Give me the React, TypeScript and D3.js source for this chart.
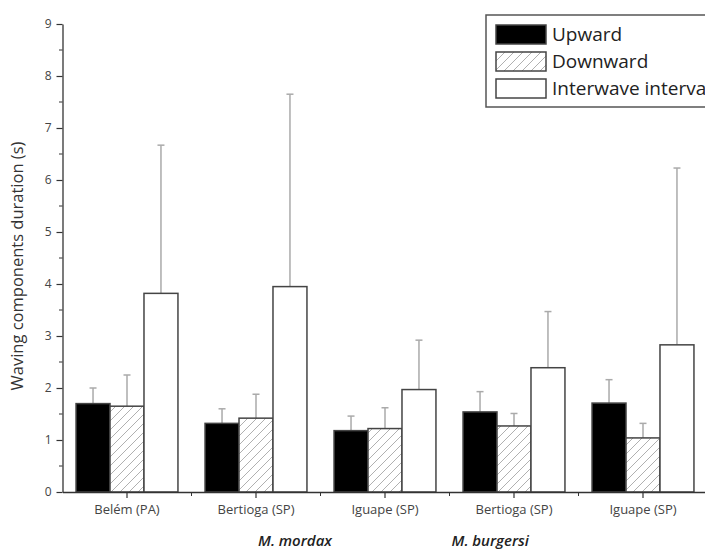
import React, { useEffect, useRef } from "react";
import * as d3 from "d3";

const W = 705;
const H = 554;
const X0 = 62.5;
const X1 = 707.5;
const Y0 = 492;
const Y1 = 24;

// categories (site names repeat, so bars are keyed by index)
const sites = ["Belém (PA)", "Bertioga (SP)", "Iguape (SP)", "Bertioga (SP)", "Iguape (SP)"];
const speciesNames = ["M. mordax", "M. burgersi"];
const seriesNames = ["Upward", "Downward", "Interwave interval"];

// means and SD (seconds)
const upward = [1.7, 1.32, 1.18, 1.54, 1.71];
const upwardSD = [0.3, 0.28, 0.28, 0.39, 0.45];
const downward = [1.65, 1.42, 1.22, 1.27, 1.04];
const downwardSD = [0.6, 0.46, 0.4, 0.24, 0.28];
const interwave = [3.82, 3.95, 1.97, 2.39, 2.83];
const interwaveSD = [2.85, 3.7, 0.95, 1.08, 3.4];

const yTicks = [0, 1, 2, 3, 4, 5, 6, 7, 8, 9];

const FONT = "'Open Sans', 'Liberation Sans', sans-serif";
const fills = ["#000", "url(#hatch)", "#fff"];

const App = () => {
  const xAxisRef = useRef<SVGGElement>(null);
  const yAxisRef = useRef<SVGGElement>(null);

  const ids = sites.map((_, i) => String(i));
  const x = d3.scaleBand().domain(ids).range([X0, X1]).paddingInner(0.21).paddingOuter(0.105);
  const xs = d3.scaleBand().domain(seriesNames).range([0, x.bandwidth()]);
  const y = d3.scaleLinear().domain([0, 9]).range([Y0, Y1]);

  const means = [upward, downward, interwave];
  const sds = [upwardSD, downwardSD, interwaveSD];

  useEffect(() => {
    const gx = d3.select(xAxisRef.current!);
    gx.selectAll("*").remove();
    gx.call(
      d3.axisBottom(x).tickSize(6).tickSizeOuter(0).tickPadding(7)
        .tickFormat((d) => sites[+d])
    );
    // minor ticks between groups
    const bounds = ids.slice(1).map((id) => (x(id) as number) - (x.step() - x.bandwidth()) / 2);
    gx.selectAll(".minor").data(bounds).join("line")
      .attr("class", "minor")
      .attr("x1", (d) => d).attr("x2", (d) => d)
      .attr("y1", 0).attr("y2", 4)
      .attr("stroke", "#333");

    const gy = d3.select(yAxisRef.current!);
    gy.selectAll("*").remove();
    gy.call(d3.axisLeft(y).tickValues(yTicks).tickSize(6).tickSizeOuter(0).tickPadding(5)
      .tickFormat(d3.format("d")));
    gy.selectAll(".minor").data(d3.range(0.5, 9, 1)).join("line")
      .attr("class", "minor")
      .attr("x1", -3.5).attr("x2", 0)
      .attr("y1", (d) => y(d)).attr("y2", (d) => y(d))
      .attr("stroke", "#333");

    [gx, gy].forEach((g) => {
      g.selectAll(".domain").attr("stroke", "#333").attr("stroke-width", 1.3);
      g.selectAll(".tick line").attr("stroke", "#333").attr("stroke-width", 1.2);
      g.selectAll("text").attr("fill", "#444").attr("font-family", FONT);
    });
    gx.selectAll("text").attr("font-size", 13);
    gy.selectAll("text").attr("font-size", 12);
  }, []);

  const boundary = (i: number) => (x(ids[i]) as number) - (x.step() - x.bandwidth()) / 2;

  return (
    <svg width={W} height={H} style={{ position: "fixed", left: 0, top: 0, background: "#fff" }}>
      <defs>
        <pattern id="hatch" patternUnits="userSpaceOnUse" width={9} height={9}>
          <rect width={9} height={9} fill="#fff" />
          <path d="M-2,2 L2,-2 M0,9 L9,0 M7,11 L11,7" stroke="#b0b0b0" strokeWidth={1} />
        </pattern>
      </defs>

      {means.map((vals, s) =>
        vals.map((v, i) => {
          const bx = (x(ids[i]) as number) + (xs(seriesNames[s]) as number);
          const cx = bx + xs.bandwidth() / 2;
          const top = v + sds[s][i];
          return (
            <g key={`${s}-${i}`}>
              <line x1={cx} x2={cx} y1={y(v)} y2={y(top)} stroke="#aaa" strokeWidth={1.5} />
              <line x1={cx - 3.5} x2={cx + 3.5} y1={y(top)} y2={y(top)} stroke="#aaa" strokeWidth={1.5} />
              <rect x={bx} y={y(v)} width={xs.bandwidth()} height={Y0 - y(v)}
                fill={fills[s]} stroke="#444" strokeWidth={1.5} />
            </g>
          );
        })
      )}

      <g ref={xAxisRef} transform={`translate(0,${Y0})`} />
      <g ref={yAxisRef} transform={`translate(${X0},0)`} />

      <text transform={`translate(23,${(Y0 + Y1) / 2 + 8}) rotate(-90)`} textAnchor="middle"
        fontFamily={FONT} fontSize={16.5} fill="#333">
        Waving components duration (s)
      </text>

      <text x={(x(ids[1]) as number) + x.bandwidth() / 2 + 2} y={546} fontFamily={FONT}
        fontSize={15} fontWeight={600} fontStyle="italic" fill="#222">{speciesNames[0]}</text>
      <text x={boundary(3) + 2} y={546} fontFamily={FONT}
        fontSize={15} fontWeight={600} fontStyle="italic" fill="#222">{speciesNames[1]}</text>

      <g>
        <rect x={486} y={15} width={240} height={92} fill="#fff" stroke="#555" strokeWidth={1.5} />
        {seriesNames.map((name, s) => (
          <g key={name} transform={`translate(496,${25 + s * 27})`}>
            <rect width={50} height={19} fill={fills[s]} stroke="#444" strokeWidth={1.5} />
            <text x={56} y={16} fontFamily={FONT} fontSize={19} fill="#222">{name}</text>
          </g>
        ))}
      </g>
    </svg>
  );
};

export default App;
